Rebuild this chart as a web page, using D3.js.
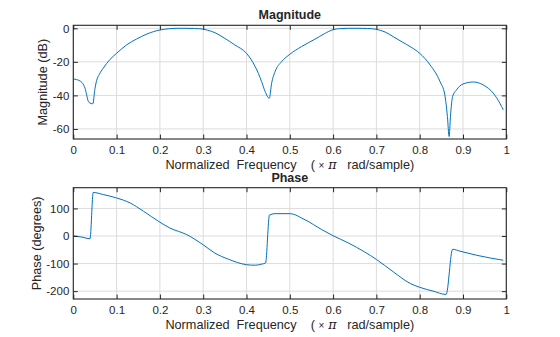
<!DOCTYPE html>
<html>
<head>
<meta charset="utf-8">
<script src="https://cdn.jsdelivr.net/npm/d3@7"></script>
<style>
  html, body { margin: 0; padding: 0; background: #fff; }
  svg { display: block; }
  text { font-family: "Liberation Sans", Arial, Helvetica, sans-serif; fill: #262626; white-space: pre; }
</style>
</head>
<body>
<svg id="chart" width="560" height="337"></svg>
<script>
// ---- data ----
const magFreq = [0, 0.0155, 0.027, 0.035, 0.0386, 0.045, 0.05, 0.054, 0.06, 0.069, 0.085, 0.1, 0.123, 0.146, 0.17, 0.2, 0.21, 0.223, 0.24, 0.26, 0.28, 0.3, 0.31, 0.327, 0.35, 0.373, 0.4, 0.42, 0.435, 0.443, 0.4527, 0.458, 0.466, 0.481, 0.5, 0.527, 0.558, 0.58, 0.6, 0.615, 0.635, 0.66, 0.68, 0.7, 0.72, 0.739, 0.76, 0.778, 0.8, 0.824, 0.847, 0.858, 0.864, 0.868, 0.871, 0.876, 0.885, 0.9, 0.924, 0.947, 0.97, 0.985, 0.993];
const magDb = [-30.2, -31.4, -35.7, -43.7, -44.6, -45, -36, -31, -27.5, -23.8, -18.5, -14.9, -9.9, -6.4, -3.4, -1, -0.6, -0.2, 0, 0, -0.1, -0.5, -1.1, -2.6, -6, -9.9, -14.9, -22.8, -31.8, -37.7, -41.7, -32.8, -25.8, -19.9, -15.5, -10.9, -6.5, -3.2, -0.8, -0.2, 0, 0, -0.1, -0.6, -2.2, -5, -8.2, -10.9, -14.9, -21.8, -31.8, -39.7, -52.6, -64.5, -52.6, -40.7, -36.7, -33.2, -32, -33.8, -38.7, -44.6, -48.6];

const phaseFreq = [0, 0.02, 0.0386, 0.046, 0.07, 0.1, 0.131, 0.162, 0.2, 0.223, 0.262, 0.3, 0.327, 0.358, 0.4, 0.42, 0.435, 0.444, 0.453, 0.466, 0.5, 0.535, 0.574, 0.6, 0.635, 0.673, 0.7, 0.739, 0.778, 0.8, 0.831, 0.861, 0.876, 0.893, 0.932, 0.993];
const phaseDeg = [1, -4, -10, 158, 150, 138, 120, 90, 50, 29, 5, -32, -62, -84, -104, -106, -102, -98, 76, 81, 81, 59, 23, 1, -25, -58, -85, -130, -172, -186, -200, -212, -48, -55, -70, -88];

const xTicks = [0, 0.1, 0.2, 0.3, 0.4, 0.5, 0.6, 0.7, 0.8, 0.9, 1];
const xTickLabels = ["0", "0.1", "0.2", "0.3", "0.4", "0.5", "0.6", "0.7", "0.8", "0.9", "1"];
const magTicks = [-60, -40, -20, 0];
const phaseTicks = [-200, -100, 0, 100];

const magTitle = "Magnitude";
const phaseTitle = "Phase";
const magYLabel = "Magnitude (dB)";
const phaseYLabel = "Phase (degrees)";

// ---- drawing ----
const svg = d3.select("#chart");
const lineColor = "#0072BD";
const axisColor = "#262626";
const gridColor = "#dcdcdc";
const L = 73.3, R = 506.3;

function panel(cfg) {
  const x = d3.scaleLinear().domain([0, 1]).range([L, R]);
  const y = d3.scaleLinear().domain(cfg.yDomain).range([cfg.bottom, cfg.top]);
  const g = svg.append("g");

  // grid
  g.append("g").selectAll("line").data(xTicks).join("line")
    .attr("x1", d => x(d)).attr("x2", d => x(d))
    .attr("y1", cfg.top).attr("y2", cfg.bottom)
    .attr("stroke", gridColor).attr("stroke-width", 1);
  g.append("g").selectAll("line").data(cfg.yTicks).join("line")
    .attr("x1", L).attr("x2", R)
    .attr("y1", d => y(d)).attr("y2", d => y(d))
    .attr("stroke", gridColor).attr("stroke-width", 1);

  // data line
  const line = d3.line().x(d => x(d[0])).y(d => y(d[1])).curve(d3.curveMonotoneX);
  const pts = cfg.xs.map((v, i) => [v, cfg.ys[i]]);
  g.append("path").datum(pts)
    .attr("d", line).attr("fill", "none")
    .attr("stroke", lineColor).attr("stroke-width", 1)
    .attr("stroke-linejoin", "round");

  const ts = 4.5;
  const ax = g.append("g").attr("transform", `translate(0,${cfg.bottom})`)
    .call(d3.axisBottom(x).tickValues(xTicks).tickFormat((d, i) => xTickLabels[i]).tickSize(-ts).tickPadding(6.5));
  const axT = g.append("g").attr("transform", `translate(0,${cfg.top})`)
    .call(d3.axisTop(x).tickValues(xTicks).tickFormat("").tickSize(-ts));
  const ay = g.append("g").attr("transform", `translate(${L},0)`)
    .call(d3.axisLeft(y).tickValues(cfg.yTicks).tickFormat(d => String(d)).tickSize(-ts).tickPadding(4));
  const ayR = g.append("g").attr("transform", `translate(${R},0)`)
    .call(d3.axisRight(y).tickValues(cfg.yTicks).tickFormat("").tickSize(-ts));
  [ax, axT, ay, ayR].forEach(a => {
    a.select(".domain").remove();
    a.selectAll(".tick line").attr("stroke", axisColor).attr("stroke-width", 1);
    a.selectAll(".tick text").attr("fill", axisColor)
      .style("font-family", '"Liberation Sans", Arial, sans-serif').style("font-size", "11.5px");
  });

  // box
  g.append("rect").attr("x", L).attr("y", cfg.top)
    .attr("width", R - L).attr("height", cfg.bottom - cfg.top)
    .attr("fill", "none").attr("stroke", axisColor).attr("stroke-width", 1.1);

  // title
  g.append("text").attr("x", (L + R) / 2).attr("y", cfg.top - 6.2)
    .attr("text-anchor", "middle").style("font-weight", "bold").style("font-size", "12.5px")
    .text(cfg.title);

  // x label
  const xl = g.append("text").attr("x", (L + R) / 2).attr("y", cfg.bottom + 30)
    .attr("text-anchor", "middle").style("font-size", "12.7px");
  xl.append("tspan").text("Normalized  Frequency    ( ");
  xl.append("tspan").style("font-size", "10px").text("×");
  xl.append("tspan").style("font-style", "italic").style("font-family", '"DejaVu Serif", "Liberation Serif", serif').text(" π");
  xl.append("tspan").text("   rad/sample)");

  // y label
  g.append("text")
    .attr("transform", `translate(${cfg.ylx},${(cfg.top + cfg.bottom) / 2}) rotate(-90)`)
    .attr("text-anchor", "middle").style("font-size", "12.7px")
    .text(cfg.ylabel);
}

panel({ top: 25.3, bottom: 139, yDomain: [-66, 1.8], yTicks: magTicks,
        xs: magFreq, ys: magDb, title: magTitle, ylabel: magYLabel, ylx: 47 });
panel({ top: 187.7, bottom: 299, yDomain: [-228.5, 175.2], yTicks: phaseTicks,
        xs: phaseFreq, ys: phaseDeg, title: phaseTitle, ylabel: phaseYLabel, ylx: 41 });
</script>
</body>
</html>
